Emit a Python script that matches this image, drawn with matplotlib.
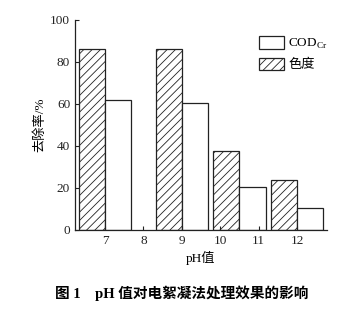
import matplotlib
matplotlib.use("Agg")
import matplotlib.pyplot as plt
import numpy as np

plt.rcParams['font.family'] = ['Liberation Serif', 'Noto Sans CJK SC']
plt.rcParams['hatch.linewidth'] = 0.6
plt.rcParams['hatch.color'] = '#444444'

# data
ph_groups = [7, 9, 10.5, 12]
cod_removal = [62, 60.5, 20.3, 10.3]
color_removal = [86.3, 86, 37.5, 23.8]
xtick_vals = [7, 8, 9, 10, 11, 12]
ytick_vals = [0, 20, 40, 60, 80, 100]

fig = plt.figure(figsize=(3.57, 3.16), dpi=100)
ax = fig.add_axes([75/357, 1-230/316, (327-75)/357, (230-20)/316])

w = 0.68
x = np.array(ph_groups)
ax.bar(x, color_removal, width=-w, align='edge', facecolor='white',
       edgecolor='#222222', linewidth=0.9, hatch='////', label='色度')
ax.bar(x, cod_removal, width=w, align='edge', facecolor='white',
       edgecolor='#222222', linewidth=0.9, label='COD$_\\mathregular{Cr}$')

ax.set_xlim(6.22, 12.78)
ax.set_ylim(0, 100)
ax.set_xticks(xtick_vals)
ax.set_yticks(ytick_vals)
ax.tick_params(direction='in', length=3, width=0.8, labelsize=9.5, colors='#222222')
for s in ['top', 'right']:
    ax.spines[s].set_visible(False)
for s in ['left', 'bottom']:
    ax.spines[s].set_linewidth(0.9)
    ax.spines[s].set_color('#222222')

ax.set_ylabel('去除率/%', fontsize=9.5, labelpad=3)
ax.set_xlabel('pH值', fontsize=9.5, labelpad=3)

h, l = ax.get_legend_handles_labels()
ax.legend(h[::-1], l[::-1], loc='upper right', bbox_to_anchor=(1.05, 0.98),
          frameon=False, fontsize=9.5, handlelength=1.9, handleheight=1.1,
          handletextpad=0.3, labelspacing=0.5)

fig.text(182/357, 1-293/316, '图 1    pH 值对电絮凝法处理效果的影响',
         ha='center', va='center', fontsize=10.5, fontweight='bold')

fig.savefig('out.png', dpi=100)
